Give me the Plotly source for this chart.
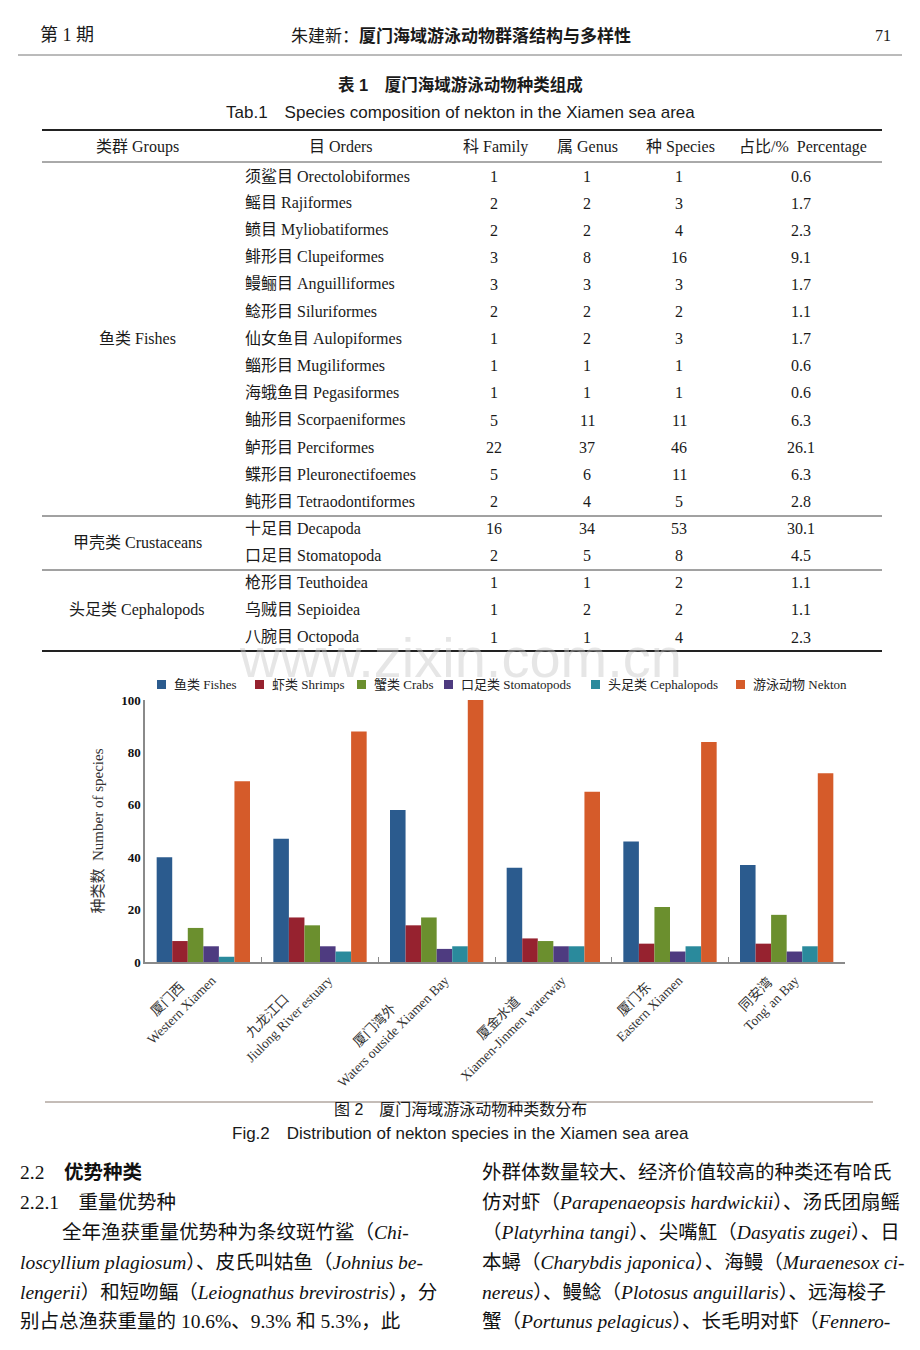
import plotly.graph_objects as go

# === Page geometry (pixels) ===
W, H = 920, 1350
OFF = 8  # default body margin of the html page
SERIF = "Liberation Serif, Noto Sans CJK SC, serif"
SANS = "Liberation Sans, Noto Sans CJK SC, sans-serif"

# === Table 1 data ===
groups = ["鱼类 Fishes", "甲壳类 Crustaceans", "头足类 Cephalopods"]
group_rows = [6, 13.5, 16]
orders = ["须鲨目 Orectolobiformes", "鳐目 Rajiformes", "鲼目 Myliobatiformes",
          "鲱形目 Clupeiformes", "鳗鲡目 Anguilliformes", "鲶形目 Siluriformes",
          "仙女鱼目 Aulopiformes", "鲻形目 Mugiliformes", "海蛾鱼目 Pegasiformes",
          "鲉形目 Scorpaeniformes", "鲈形目 Perciformes", "鲽形目 Pleuronectifoemes",
          "鲀形目 Tetraodontiformes", "十足目 Decapoda", "口足目 Stomatopoda",
          "枪形目 Teuthoidea", "乌贼目 Sepioidea", "八腕目 Octopoda"]
family = [1, 2, 2, 3, 3, 2, 1, 1, 1, 5, 22, 5, 2, 16, 2, 1, 1, 1]
genus = [1, 2, 2, 8, 3, 2, 2, 1, 1, 11, 37, 6, 4, 34, 5, 1, 2, 1]
species = [1, 3, 4, 16, 3, 2, 3, 1, 1, 11, 46, 11, 5, 53, 8, 2, 2, 4]
percentage = [0.6, 1.7, 2.3, 9.1, 1.7, 1.1, 1.7, 0.6, 0.6, 6.3, 26.1, 6.3, 2.8,
              30.1, 4.5, 1.1, 1.1, 2.3]
table_header = ["类群 Groups", "目 Orders", "科 Family", "属 Genus", "种 Species", "占比/%  Percentage"]

# === Figure 2 data ===
sites_cn = ["厦门西", "九龙江口", "厦门湾外", "厦金水道", "厦门东", "同安湾"]
sites_en = ["Western Xiamen", "Jiulong River estuary", "Waters outside Xiamen Bay",
            "Xiamen-Jinmen waterway", "Eastern Xiamen", "Tong' an Bay"]
series_names = ["鱼类 Fishes", "虾类 Shrimps", "蟹类 Crabs", "口足类 Stomatopods",
                "头足类 Cephalopods", "游泳动物 Nekton"]
fishes = [40, 47, 58, 36, 46, 37]
shrimps = [8, 17, 14, 9, 7, 7]
crabs = [13, 14, 17, 8, 21, 18]
stomatopods = [6, 6, 5, 6, 4, 4]
cephalopods = [2, 4, 6, 6, 6, 6]
nekton = [69, 88, 100, 65, 84, 72]
series_colors = ["#2b5b8e", "#96222f", "#6b8f2e", "#4e3b80", "#2a8a9c", "#d55b2a"]
legend_text_x = [172, 270, 372, 459, 606, 751]


def px(x):
    return (x - OFF) / W


def py(y):
    return 1 - (y - OFF) / H


annotations = []
shapes = []


def text(x, y, s, size, family=SERIF, anchor="center", color="#1a1a1a", weight="normal"):
    annotations.append(dict(x=px(x), y=py(y), xref="paper", yref="paper", text=s,
                            showarrow=False, xanchor=anchor, yanchor="middle",
                            font=dict(size=size, family=family, color=color, weight=weight)))


def hline(x0, x1, y, width=1, color="#333"):
    shapes.append(dict(type="line", xref="paper", yref="paper", x0=px(x0), x1=px(x1),
                       y0=py(y), y1=py(y), line=dict(color=color, width=width)))


# === Running header ===
text(67, 35, "第 1 期", 18)
text(461, 36, "朱建新：<b>厦门海域游泳动物群落结构与多样性</b>", 17)
text(883, 35, "71", 16)
hline(18, 902, 55, 1, "#777")

# === Table 1 ===
text(460, 85, "<b>表 1　厦门海域游泳动物种类组成</b>", 16.5, SANS)
text(460, 113, "Tab.1　Species composition of nekton in the Xiamen sea area", 17, SANS)
hline(42, 882, 130, 1.8, "#222")
hline(42, 882, 162, 1, "#555")
col_x = [137, 341, 495, 587, 680, 803]
for cx, h in zip(col_x, table_header):
    text(cx, 147, h, 16)

row_y0, row_step = 176, 27.12
for i in range(len(orders)):
    y = row_y0 + i * row_step
    text(243, y, orders[i], 16, anchor="left")
    text(494, y, str(family[i]), 16)
    text(587, y, str(genus[i]), 16)
    text(679, y, str(species[i]), 16)
    text(801, y, f"{percentage[i]:.1f}", 16)
for g, r in zip(groups, group_rows):
    text(137, row_y0 + r * row_step, g, 16)
hline(42, 882, 516, 1, "#444")
hline(42, 882, 570, 1, "#444")
hline(42, 882, 651, 2, "#222")

# watermark
text(460, 658, "www.zixin.com.cn", 56, SANS, color="rgba(200,200,200,0.45)")

# === Figure 2 bars ===
values = [fishes, shrimps, crabs, stomatopods, cephalopods, nekton]
fig = go.Figure()
for name, vals, c in zip(series_names, values, series_colors):
    fig.add_trace(go.Bar(x=sites_en, y=vals, name=name, showlegend=False,
                         marker=dict(color=c, line=dict(width=0))))

# two-line rotated site labels, chinese line roughly centred over the english one
tick_text = []
for cn, en in zip(sites_cn, sites_en):
    pad = max(0, round((len(en) * 6.6 - len(cn) * 13) / 2 / 3.4))
    tick_text.append(cn + "\u00a0" * pad + "<br>" + en)

# legend row above the chart
for name, c, tx in zip(series_names, series_colors, legend_text_x):
    shapes.append(dict(type="rect", xref="paper", yref="paper",
                       x0=px(tx - 15), x1=px(tx - 6), y0=py(689), y1=py(680),
                       fillcolor=c, line=dict(width=0)))
    text(tx, 684, name, 13, anchor="left", color="#222")

# captions
hline(45, 873, 1102, 1, "#8a7a70")
text(460, 1109, "图 2　厦门海域游泳动物种类数分布", 16, SANS)
text(460, 1133, "Fig.2　Distribution of nekton species in the Xiamen sea area", 17, SANS)

# === Body text ===
left_lines = [
    (18, "2.2　<b>优势种类</b>"),
    (18, "2.2.1　重量优势种"),
    (60, "全年渔获重量优势种为条纹斑竹鲨（<i>Chi-</i>"),
    (18, "<i>loscyllium plagiosum</i>）、皮氏叫姑鱼（<i>Johnius be-</i>"),
    (18, "<i>lengerii</i>）和短吻鲾（<i>Leiognathus brevirostris</i>），分"),
    (18, "别占总渔获重量的 10.6%、9.3% 和 5.3%，此"),
]
right_lines = [
    "外群体数量较大、经济价值较高的种类还有哈氏",
    "仿对虾（<i>Parapenaeopsis hardwickii</i>）、汤氏团扇鳐",
    "（<i>Platyrhina tangi</i>）、尖嘴魟（<i>Dasyatis zugei</i>）、日",
    "本蟳（<i>Charybdis japonica</i>）、海鳗（<i>Muraenesox ci-</i>",
    "<i>nereus</i>）、鳗鲶（<i>Plotosus anguillaris</i>）、远海梭子",
    "蟹（<i>Portunus pelagicus</i>）、长毛明对虾（<i>Fennero-</i>",
]
line_y = [1172, 1202, 1232, 1262, 1292, 1321]
for (lx, s), y in zip(left_lines, line_y):
    text(lx, y, s, 19.5, anchor="left", color="#111")
for s, y in zip(right_lines, line_y):
    text(480, y, s, 19.5, anchor="left", color="#111")

fig.update_layout(
    width=W, height=H,
    margin=dict(l=0, r=0, t=0, b=0),
    paper_bgcolor="white", plot_bgcolor="white",
    barmode="group", bargap=0.2, bargroupgap=0,
    font=dict(family=SERIF, color="#1a1a1a"),
    showlegend=False,
    xaxis=dict(domain=[px(145), px(845)], anchor="y",
               tickmode="array", tickvals=sites_en, ticktext=tick_text,
               showline=True, linecolor="#8a8a8a", linewidth=1.5,
               ticks="inside", tickson="boundaries", ticklen=5, tickcolor="#8a8a8a",
               tickangle=-45, tickfont=dict(size=13.5, family=SERIF, color="#333"),
               ticklabelstandoff=-9, ticklabelshift=-4,
               showgrid=False, automargin=False),
    yaxis=dict(domain=[py(962), py(700)], range=[0, 100], dtick=20,
               showline=True, linecolor="#8a8a8a", linewidth=1.5, ticks="",
               showgrid=False, zeroline=False, automargin=False,
               tickfont=dict(size=13, family=SERIF, color="#111", weight="bold"),
               title=dict(text="种类数  Number of species", standoff=14,
                          font=dict(size=15, family=SERIF, color="#333"))),
    annotations=annotations,
    shapes=shapes,
)

fig.write_html("out.html")
